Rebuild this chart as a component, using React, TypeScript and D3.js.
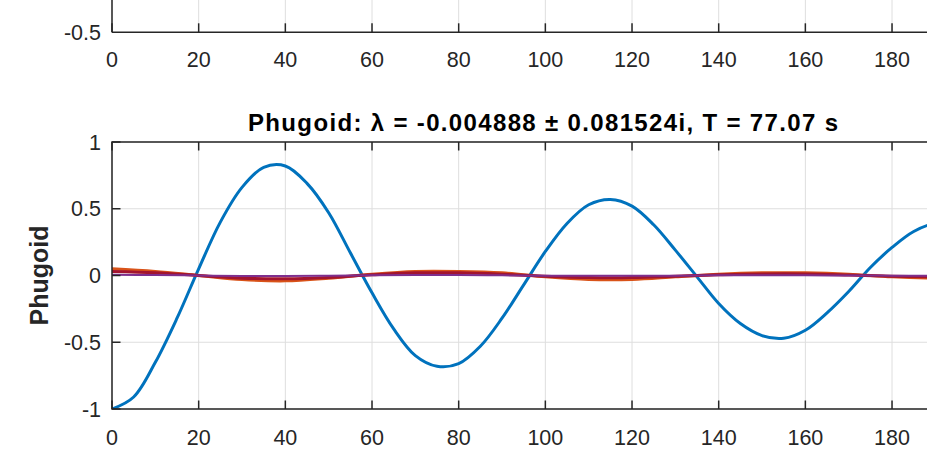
import * as d3 from "d3";

// time samples (s)
const timeFine = [0, 5, 10, 15, 20, 25, 30, 35, 40, 45, 50, 55, 60, 65, 70, 75, 80, 85, 90, 95, 100,
  105, 110, 115, 120, 125, 130, 135, 140, 145, 150, 155, 160, 165, 170, 175, 180, 185, 190, 195, 200];
const blueVals = [-1.00, -0.91, -0.65, -0.32, 0.05, 0.40, 0.66, 0.81, 0.82, 0.69, 0.47, 0.17, -0.13,
  -0.40, -0.60, -0.68, -0.66, -0.53, -0.32, -0.07, 0.18, 0.39, 0.53, 0.57, 0.52, 0.38, 0.19, -0.01,
  -0.21, -0.36, -0.45, -0.47, -0.41, -0.28, -0.12, 0.06, 0.21, 0.33, 0.39, 0.38, 0.31];

const timeCoarse = [0, 10, 20, 30, 40, 50, 60, 70, 80, 90, 100, 110, 120, 130, 140, 150, 160, 170, 180, 190, 200];
const orangeVals = [0.05, 0.03, 0.0, -0.03, -0.04, -0.02, 0.01, 0.03, 0.03, 0.02, -0.01, -0.03, -0.03,
  -0.01, 0.01, 0.02, 0.02, 0.01, -0.01, -0.02, -0.02];
const darkRedVals = [0.03, 0.02, 0.0, -0.02, -0.025, -0.015, 0.005, 0.02, 0.02, 0.01, -0.005, -0.015,
  -0.015, -0.005, 0.005, 0.012, 0.012, 0.004, -0.006, -0.01, -0.008];
const purpleVals = [0.005, 0.003, 0.0, -0.003, -0.004, -0.002, 0.001, 0.003, 0.003, 0.001, -0.001, -0.002,
  -0.002, -0.001, 0.001, 0.002, 0.002, 0.0, -0.001, -0.002, -0.001];

const xTicks = [0, 20, 40, 60, 80, 100, 120, 140, 160, 180, 200];
const yTicks = [-1, -0.5, 0, 0.5, 1];
const topYTicks = [-0.5];

const titleText = "Phugoid: \u03bb = -0.004888  \u00b1 0.081524i, T = 77.07 s";
const yLabelText = "Phugoid";

const W = 927;
const H = 457;
const FONT = "'Liberation Sans', Arial, Helvetica, sans-serif";
const AX = "#262626";
const GRID = "#dedede";

export default function App() {
  const x = d3.scaleLinear().domain([0, 200]).range([112, 978.7]);
  const y = d3.scaleLinear().domain([-1, 1]).range([409, 142]);
  const yTop = d3.scaleLinear().domain([-0.5, 1]).range([32.3, -330]);

  const [x0, x1] = x.range();
  const [yb, yt] = y.range();
  const topBase = yTop(-0.5);
  // labels whose tick falls outside the cropped window are not drawn
  const shownXTicks = xTicks.filter(t => x(t) < W - 20);

  const mk = (ts: number[]) =>
    d3.line<number>().x((_, i) => x(ts[i])).y(d => y(d)).curve(d3.curveCatmullRom.alpha(0.5));

  const series = [
    { vals: blueVals, ts: timeFine, color: "#0072BD", w: 3 },
    { vals: orangeVals, ts: timeCoarse, color: "#D95319", w: 3 },
    { vals: darkRedVals, ts: timeCoarse, color: "#A2142F", w: 3 },
    { vals: purpleVals, ts: timeCoarse, color: "#7E2F8E", w: 2 },
  ];

  const fmt = (v: number) => (v === 0 ? "0" : String(v));

  return (
    <div style={{ position: "absolute", left: 0, top: 0 }}>
      <svg width={W} height={H} style={{ display: "block", background: "#fff" }} fontFamily={FONT}>
        <defs>
          <clipPath id="plotclip">
            <rect x={x0} y={yt} width={x1 - x0} height={yb - yt} />
          </clipPath>
        </defs>

        {/* upper axes (only its bottom strip is visible) */}
        {xTicks.map(t => (
          <line key={"tg" + t} x1={x(t)} x2={x(t)} y1={0} y2={topBase} stroke={GRID} strokeWidth={1} />
        ))}
        <line x1={x0} x2={x0} y1={0} y2={topBase} stroke={AX} strokeWidth={1.5} />
        <line x1={x0} x2={x1} y1={topBase} y2={topBase} stroke={AX} strokeWidth={1.5} />
        {xTicks.map(t => (
          <line key={"tt" + t} x1={x(t)} x2={x(t)} y1={topBase} y2={topBase - 9} stroke={AX} strokeWidth={1.5} />
        ))}
        {shownXTicks.map(t => (
          <text key={"tl" + t} x={x(t)} y={topBase + 35} textAnchor="middle" fontSize={21.5} fill={AX}>{t}</text>
        ))}
        {topYTicks.map(v => (
          <text key={"tyl" + v} x={101} y={yTop(v) + 7.7} textAnchor="end" fontSize={21.5} fill={AX}>{fmt(v)}</text>
        ))}

        {/* lower axes */}
        {xTicks.map(t => (
          <line key={"g" + t} x1={x(t)} x2={x(t)} y1={yt} y2={yb} stroke={GRID} strokeWidth={1} />
        ))}
        {yTicks.map(v => (
          <line key={"hg" + v} x1={x0} x2={x1} y1={y(v)} y2={y(v)} stroke={GRID} strokeWidth={1} />
        ))}

        <g clipPath="url(#plotclip)">
          {series.map((s, i) => (
            <path key={i} d={mk(s.ts)(s.vals) || ""} fill="none" stroke={s.color} strokeWidth={s.w}
              strokeLinejoin="round" strokeLinecap="round" />
          ))}
        </g>

        <rect x={x0} y={yt} width={x1 - x0} height={yb - yt} fill="none" stroke={AX} strokeWidth={1.5} />
        {xTicks.map(t => (
          <g key={"xt" + t}>
            <line x1={x(t)} x2={x(t)} y1={yb} y2={yb - 8.5} stroke={AX} strokeWidth={1.5} />
            <line x1={x(t)} x2={x(t)} y1={yt} y2={yt + 8.5} stroke={AX} strokeWidth={1.5} />
          </g>
        ))}
        {shownXTicks.map(t => (
          <text key={"xl" + t} x={x(t)} y={yb + 36} textAnchor="middle" fontSize={21.5} fill={AX}>{t}</text>
        ))}
        {yTicks.map(v => (
          <g key={"yt" + v}>
            <line x1={x0} x2={x0 + 8.5} y1={y(v)} y2={y(v)} stroke={AX} strokeWidth={1.5} />
            <text x={101} y={y(v) + 7.7} textAnchor="end" fontSize={21.5} fill={AX}>{fmt(v)}</text>
          </g>
        ))}

        <text x={248} y={130.5} fontSize={24} fontWeight="bold" fill="#000" textLength={590}
          lengthAdjust="spacing">{titleText}</text>
        <text transform={`translate(48,${(yb + yt) / 2}) rotate(-90)`} textAnchor="middle" fontSize={25}
          fontWeight="bold" fill={AX}>{yLabelText}</text>
      </svg>
    </div>
  );
}
